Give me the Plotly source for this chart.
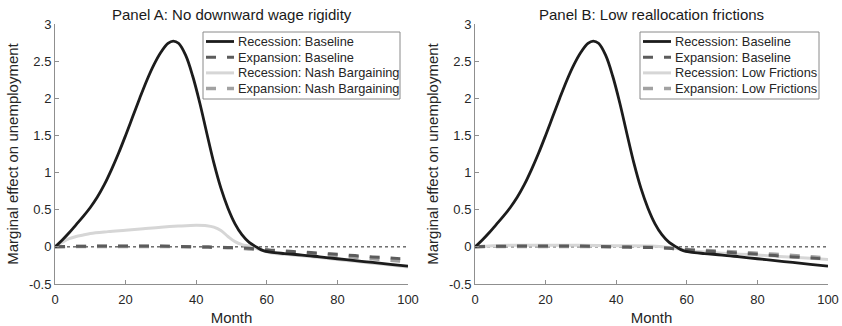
import plotly.graph_objects as go

# ---------------- data ----------------
month_rec = [0, 2, 4, 6, 8, 10, 12, 14, 16, 18, 20, 22, 24, 26, 28, 30, 32, 33.5, 35, 37, 39,
             41, 43, 45, 47, 49, 51, 53, 55, 57, 59, 61, 65, 70, 75, 80, 85, 90, 95, 100]
rec_baseline = [0, 0.09, 0.19, 0.30, 0.41, 0.53, 0.67, 0.84, 1.04, 1.26, 1.50, 1.75, 2.00, 2.24,
                2.45, 2.62, 2.74, 2.77, 2.74, 2.58, 2.30, 1.94, 1.53, 1.13, 0.79, 0.52, 0.31,
                0.16, 0.06, 0.0, -0.05, -0.07, -0.09, -0.11, -0.135, -0.16, -0.185, -0.21,
                -0.235, -0.26]

month_nash = [0, 2, 4, 6, 8, 10, 15, 20, 25, 30, 35, 40, 43, 45, 47, 49, 51, 53, 55, 57, 59,
              61, 65, 70, 75, 80, 85, 90, 95, 100]
rec_nash = [0, 0.06, 0.11, 0.14, 0.16, 0.18, 0.205, 0.225, 0.245, 0.265, 0.28, 0.29, 0.285,
            0.265, 0.22, 0.14, 0.07, 0.03, 0.01, -0.02, -0.05, -0.08, -0.10, -0.12, -0.145,
            -0.17, -0.195, -0.22, -0.245, -0.27]

month_exp = [0, 10, 20, 30, 40, 45, 50, 55, 60, 65, 70, 75, 80, 85, 90, 95, 100]
exp_baseline = [0, 0.01, 0.01, 0.01, 0.0, -0.005, -0.01, -0.02, -0.04, -0.055, -0.07, -0.085,
                -0.10, -0.118, -0.135, -0.15, -0.165]
exp_nash = [0, 0.005, 0.005, 0.005, 0.0, -0.005, -0.012, -0.028, -0.05, -0.068, -0.085,
            -0.102, -0.12, -0.14, -0.16, -0.18, -0.20]

month_low = [0, 5, 10, 20, 30, 40, 50, 55, 58, 60, 65, 70, 75, 80, 85, 90, 95, 100]
rec_low = [0, 0.015, 0.02, 0.02, 0.02, 0.015, 0.01, -0.01, -0.03, -0.05, -0.068, -0.085,
           -0.098, -0.11, -0.125, -0.14, -0.155, -0.17]
exp_low = [0, 0.005, 0.005, 0.005, 0.005, 0.0, -0.005, -0.015, -0.028, -0.035, -0.048, -0.06,
           -0.072, -0.085, -0.10, -0.115, -0.132, -0.15]

x_ticks = [0, 20, 40, 60, 80, 100]
x_ticktext = ["0", "20", "40", "60", "80", "100"]
y_ticks = [-0.5, 0, 0.5, 1, 1.5, 2, 2.5, 3]
y_ticktext = ["-0.5", "0", "0.5", "1", "1.5", "2", "2.5", "3"]

titles = ["Panel A: No downward wage rigidity", "Panel B: Low reallocation frictions"]
alt_names = ["Nash Bargaining", "Low Frictions"]
x_title = "Month"
y_title = "Marginal effect on unemployment"

# ---------------- styles ----------------
FONT = "Liberation Sans, Arial, Helvetica, sans-serif"
TXT = "#262626"
C_BLACK = "#1c1c1c"
C_DARK = "#5c5c5c"
C_LIGHT = "#d6d6d6"
C_MED = "#a2a2a2"
DASH = "10px,11px"

# plot-area geometry in pixels (used only for placing the hand-drawn legend box)
PX_L, PX_R, PX_T, PX_B = 55, 828, 24, 284
W_PX = PX_R - PX_L
H_PX = PX_B - PX_T


def px_to_paper(px, py):
    return (px - PX_L) / W_PX, (PX_B - py) / H_PX


fig = go.Figure()

styles = {
    "rec_base": dict(color=C_BLACK, width=2.8),
    "exp_base": dict(color=C_DARK, width=3, dash=DASH),
    "rec_alt": dict(color=C_LIGHT, width=3),
    "exp_alt": dict(color=C_MED, width=3.5, dash=DASH),
}


def add_panel(col, alt_name, alt_rec_x, alt_rec_y, alt_exp_x, alt_exp_y):
    xa = "x" if col == 1 else "x2"
    ya = "y" if col == 1 else "y2"
    common = dict(xaxis=xa, yaxis=ya, mode="lines", hoverinfo="skip", showlegend=False)
    fig.add_trace(go.Scatter(x=alt_rec_x, y=alt_rec_y, name="Recession: " + alt_name,
                             line=dict(shape="spline", **styles["rec_alt"]), **common))
    fig.add_trace(go.Scatter(x=alt_exp_x, y=alt_exp_y, name="Expansion: " + alt_name,
                             line=dict(shape="spline", **styles["exp_alt"]), **common))
    fig.add_trace(go.Scatter(x=month_exp, y=exp_baseline, name="Expansion: Baseline",
                             line=dict(shape="spline", **styles["exp_base"]), **common))
    fig.add_trace(go.Scatter(x=month_rec, y=rec_baseline, name="Recession: Baseline",
                             line=dict(shape="spline", **styles["rec_base"]), **common))


add_panel(1, alt_names[0], month_nash, rec_nash, month_exp, exp_nash)
add_panel(2, alt_names[1], month_low, rec_low, month_low, exp_low)

axis_common = dict(
    showline=True, linecolor="#8f8f8f", linewidth=1,
    ticks="inside", ticklen=4, tickcolor="#8f8f8f", tickwidth=1,
    showgrid=False, zeroline=False, automargin=False,
    tickfont=dict(family=FONT, size=13, color=TXT),
    mirror=False,
)
xaxis_common = dict(range=[0, 100], tickvals=x_ticks, ticktext=x_ticktext, ticklabelstandoff=3,
                    title=dict(text=x_title, font=dict(size=15, family=FONT, color=TXT), standoff=7),
                    **axis_common)
yaxis_common = dict(domain=[0, 1], range=[-0.5, 3], tickvals=y_ticks, ticktext=y_ticktext,
                    title=dict(text=y_title, font=dict(size=15, family=FONT, color=TXT), standoff=6),
                    **axis_common)

dom1 = [0, 353 / 773]
dom2 = [420 / 773, 1]

fig.update_layout(
    width=842, height=326,
    margin=dict(l=PX_L, r=842 - PX_R, t=PX_T, b=326 - PX_B),
    paper_bgcolor="white", plot_bgcolor="white",
    font=dict(family=FONT, size=13, color=TXT),
    showlegend=False,
    xaxis=dict(domain=dom1, anchor="y", **xaxis_common),
    yaxis=dict(anchor="x", **yaxis_common),
    xaxis2=dict(domain=dom2, anchor="y2", **xaxis_common),
    yaxis2=dict(anchor="x2", **yaxis_common),
)

# zero reference line and panel titles
for i, (xr, yr) in enumerate([("x", "y"), ("x2", "y2")]):
    fig.add_shape(type="line", xref=xr, yref=yr, x0=0, x1=100, y0=0, y1=0,
                  line=dict(color="#222222", width=1, dash="dot"), layer="below")
    fig.add_annotation(text=titles[i], xref=xr + " domain", yref="paper", x=0.5, y=1,
                       xanchor="center", yanchor="middle", yshift=10, showarrow=False,
                       font=dict(family=FONT, size=15, color="#1a1a1a"))

# legend boxes (MATLAB-style compact legend)
legend_boxes = [(203, 400), (640, 819)]   # left/right pixel edges
LEG_TOP, LEG_BOT = 32, 99
ROW0, ROW_STEP = 41.5, 15.7
for i, (bl, br) in enumerate(legend_boxes):
    x0, y0 = px_to_paper(bl, LEG_BOT)
    x1, y1 = px_to_paper(br, LEG_TOP)
    fig.add_shape(type="rect", xref="paper", yref="paper", x0=x0, x1=x1, y0=y0, y1=y1,
                  line=dict(color="#8a8a8a", width=1), fillcolor="white", layer="above")
    labels = ["Recession: Baseline", "Expansion: Baseline",
              "Recession: " + alt_names[i], "Expansion: " + alt_names[i]]
    keys = ["rec_base", "exp_base", "rec_alt", "exp_alt"]
    for r, (lab, key) in enumerate(zip(labels, keys)):
        py = ROW0 + r * ROW_STEP
        lx0, ly = px_to_paper(bl + 3, py)
        lx1, _ = px_to_paper(bl + 31, py)
        fig.add_shape(type="line", xref="paper", yref="paper", x0=lx0, x1=lx1, y0=ly, y1=ly,
                      line=styles[key], layer="above")
        tx, _ = px_to_paper(bl + 33, py)
        fig.add_annotation(text=lab, xref="paper", yref="paper", x=tx, y=ly,
                           xanchor="left", yanchor="middle", showarrow=False,
                           font=dict(family=FONT, size=12.8, color=TXT))

fig.write_html("out.html")
